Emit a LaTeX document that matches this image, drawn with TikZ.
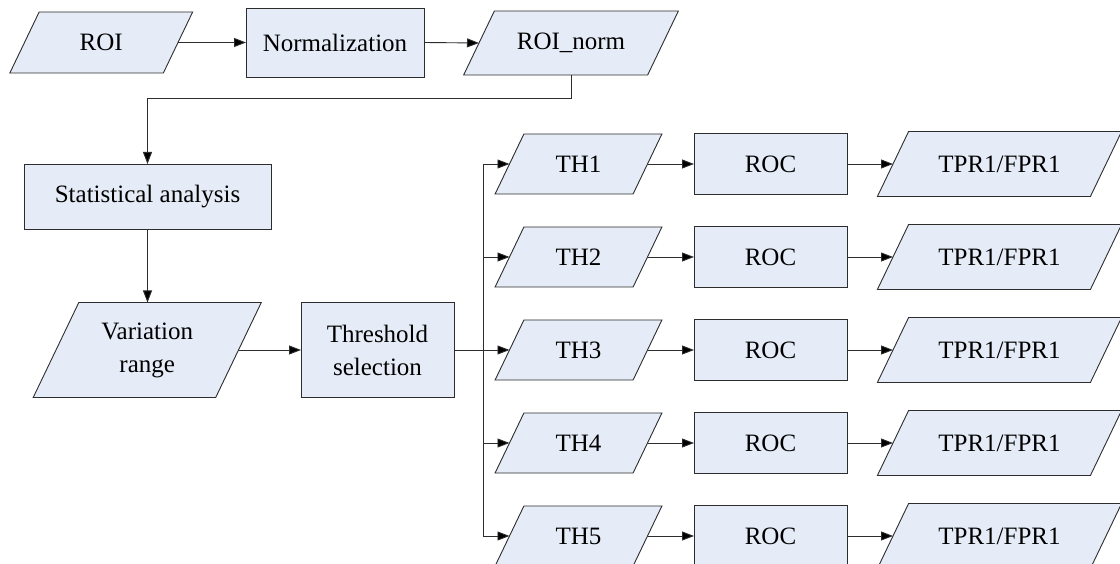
\documentclass[tikz,border=0pt]{standalone}
\usepackage{fontspec}
\setmainfont{Liberation Serif}
\usetikzlibrary{arrows.meta,backgrounds,calc}
\definecolor{boxfill}{RGB}{230,236,247}
\definecolor{linec}{RGB}{45,45,45}
\begin{document}
\begin{tikzpicture}[x=1pt,y=-1pt,
  base/.style={inner sep=0pt, outer sep=0pt, font=\fontsize{25}{33}\selectfont, align=center, text=black},
  procbox/.style 2 args={base, draw=linec, fill=boxfill, line width=0.9pt, minimum width=#1pt, minimum height=#2pt},
  iobox/.style 2 args={base, minimum width=#1pt, minimum height=#2pt},
  ioshape/.style={draw=linec, fill=boxfill, line width=0.9pt, line join=miter},
  arr/.style={draw=linec, line width=0.9pt, -{Triangle[length=12pt,width=9pt,fill=black]}},
  conn/.style={draw=linec, line width=0.9pt}]
\useasboundingbox (0,0) rectangle (1120,564);
\clip (0,0) rectangle (1120,564);

% top row
\node[iobox={153.5}{61}] (roi) at (101.25,42.5) {ROI};
\node[procbox={178}{69}] (norm) at (335,42.5) {Normalization};
\node[iobox={184}{64}] (roin) at (571,43) {ROI\_norm};

% left column
\node[procbox={247}{65}] (stat) at (147.5,196.5) {Statistical analysis};
\node[iobox={182.5}{95}] (var) at (147.25,350) {Variation\\range};
\node[procbox={153}{95}] (thr) at (377.5,350) {Threshold\\selection};
\coordinate (br) at (483,350);

% branches
\foreach \i in {1,...,5}{
  \pgfmathsetmacro{\yy}{164+93*(\i-1)}
  \node[iobox={138}{60}] (th\i) at (578.5,\yy) {TH\i};
  \node[procbox={153}{61}] (roc\i) at (770.5,\yy) {ROC};
  \node[iobox={213}{65}] (tpr\i) at (999.5,\yy) {TPR1/FPR1};
}

% connectors
\draw[arr] (roi.east) -- (norm.west);
\draw[arr] (norm.east) -- (roin.west);
\draw[arr] (roin.south) -- ++(0,23) -| (stat.north);
\draw[arr] (stat.south) -- (stat.south |- var.north);
\draw[arr] (var.east) -- (thr.west);
\draw[conn] (thr.east) -- (br);
\draw[conn] (br |- th1.west) -- (br |- th5.west);
\foreach \i in {1,...,5}{
  \draw[arr] (br |- th\i.west) -- (th\i.west);
  \draw[arr] (th\i.east) -- (roc\i.west);
  \draw[arr] (roc\i.east) -- (tpr\i.west);
}

% parallelogram outlines behind their texts
\begin{pgfonlayer}{background}
  \fill[white] (0,0) rectangle (1120,564);
  \foreach \q in {roi,roin,var,th1,th2,th3,th4,th5,tpr1,tpr2,tpr3,tpr4,tpr5}{
    \path[ioshape] let \p1=(\q.north west), \p2=(\q.south east), \n1={0.24*(\y1-\y2)} in
      (\x1+\n1,\y1) -- (\x2+\n1,\y1) -- (\x2-\n1,\y2) -- (\x1-\n1,\y2) -- cycle;
  }
\end{pgfonlayer}
\end{tikzpicture}
\end{document}
